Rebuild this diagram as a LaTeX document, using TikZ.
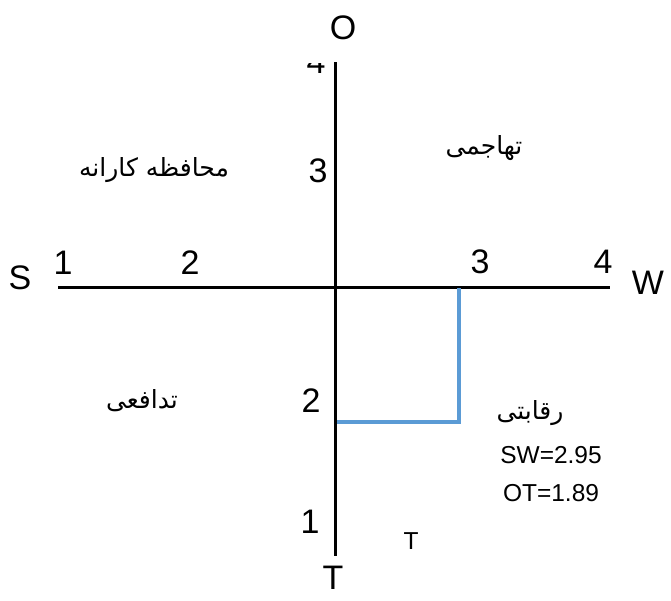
\documentclass[tikz,border=0pt]{standalone}
\usepackage{fontspec}
\setmainfont{Liberation Sans}
\newfontfamily\arabicfont[Script=Arabic]{DejaVu Sans}
\TeXXeTstate=1
\usepackage{xcolor}
\usetikzlibrary{positioning}

\tikzset{
    axislabel/.style={font=\fontsize{34}{40}\selectfont, inner sep=0pt},
    smalllabel/.style={font=\fontsize{24.5}{28}\selectfont, inner sep=0pt},
    farsilabel/.style={font=\arabicfont\fontsize{25}{30}\selectfont, inner sep=0pt},
    axisline/.style={line width=3pt},
    bluebox/.style={line width=3.2pt, draw=boxblue}
}

\begin{document}
\begin{tikzpicture}[x=1pt, y=-1pt]
    % Màu của khung
    \definecolor{boxblue}{RGB}{91, 155, 213}
    \useasboundingbox (0,0) rectangle (671,600);

    % 1. Các trục
    \coordinate (top) at (335, 62);
    \coordinate (bottom) at (335, 556);
    \coordinate (left) at (58, 287);
    \coordinate (right) at (610, 287);
    \draw[axisline] (top) -- (bottom);
    \draw[axisline] (left) -- (right);

    % 2. Khung màu xanh
    \coordinate (swpt) at (459, 288);
    \coordinate (corner) at (459, 422);
    \coordinate (otpt) at (337, 422);
    \draw[bluebox] (swpt) -- (corner) -- (otpt);

    % 3. Nhãn các trục
    \node[axislabel] (O) at (343, 28) {O};
    \node[axislabel] (S) at (20, 278) {S};
    \node[axislabel] (W) at (648, 283) {W};
    \node[axislabel] (T) at (333, 578) {T};

    % Số trên trục ngang
    \node[axislabel] (h1) at (63, 263) {1};
    \node[axislabel] (h2) at (190, 263) {2};
    \node[axislabel] (h3) at (480, 262) {3};
    \node[axislabel] (h4) at (603, 262) {4};

    % Số trên trục đứng
    \node[axislabel] (v3) at (318, 171) {3};
    \node[axislabel] (v2) at (311, 401) {2};
    \node[axislabel] (v1) at (310, 522) {1};
    \begin{scope}
        \clip (295, 63.5) rectangle (334, 80);
        \node[axislabel, anchor=base] (v4) at (316, 73) {4};
    \end{scope}

    % 4. Tên các vùng
    \node[farsilabel] (conservative) at (154, 170) {\beginR محافظه کارانه\endR};
    \node[farsilabel] (aggressive) at (484, 148) {\beginR تهاجمی\endR};
    \node[farsilabel] (defensive) at (142, 401) {\beginR تدافعی\endR};
    \node[farsilabel] (competitive) at (530, 413) {\beginR رقابتی\endR};

    % Giá trị
    \node[smalllabel] (swval) at (551, 455) {SW=2.95};
    \node[smalllabel] (otval) at (551, 493) {OT=1.89};
    \node[smalllabel] (tmark) at (411, 541) {T};
\end{tikzpicture}
\end{document}
